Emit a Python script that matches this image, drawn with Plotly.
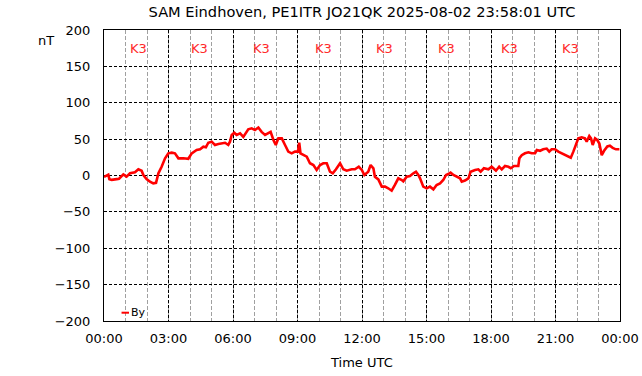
import plotly.graph_objects as go

# ---- data (hours UTC, By in nT) ----
hours = [0.0, 0.2, 0.25, 0.36, 0.59, 0.7, 0.9, 1.05, 1.21, 1.44, 1.6, 1.75, 1.83, 1.98,
         2.14, 2.29, 2.42, 2.53, 2.68, 2.84, 2.99, 3.15, 3.3, 3.46, 3.69, 3.92, 4.08, 4.31,
         4.47, 4.62, 4.74, 4.85, 5.01, 5.16, 5.32, 5.47, 5.63, 5.78, 5.86, 5.94, 6.06, 6.17,
         6.33, 6.48, 6.6, 6.71, 6.87, 7.02, 7.18, 7.33, 7.49, 7.64, 7.75, 7.88, 7.99, 8.11,
         8.27, 8.42, 8.57, 8.73, 8.88, 9.02, 9.08, 9.14, 9.27, 9.43, 9.58, 9.74, 9.89, 10.05,
         10.2, 10.36, 10.51, 10.64, 10.79, 10.98, 11.13, 11.29, 11.52, 11.67, 11.85, 11.99,
         12.11, 12.29, 12.4, 12.53, 12.6, 12.76, 12.92, 13.07, 13.22, 13.38, 13.53, 13.69,
         13.85, 13.92, 14.08, 14.23, 14.39, 14.51, 14.62, 14.7, 14.85, 15.01, 15.16, 15.32,
         15.47, 15.63, 15.78, 15.91, 16.01, 16.12, 16.25, 16.4, 16.56, 16.64, 16.79, 16.95,
         17.05, 17.26, 17.41, 17.52, 17.67, 17.88, 18.03, 18.11, 18.23, 18.38, 18.5, 18.65,
         18.81, 18.92, 19.07, 19.27, 19.32, 19.43, 19.58, 19.74, 19.89, 20.05, 20.13, 20.28,
         20.43, 20.59, 20.71, 20.82, 20.98, 21.13, 21.29, 21.44, 21.6, 21.71, 21.83, 21.95,
         22.06, 22.22, 22.37, 22.45, 22.57, 22.65, 22.73, 22.84, 22.94, 23.04, 23.15, 23.26,
         23.41, 23.53, 23.66, 23.81, 23.97]
by_nt = [-2, 1, -5, -6, -5, -4.5, 1.6, -1.6, 3, 4.4, 8.5, 6.6, 0.7, -4.8,
         -8.5, -10.8, -10, 3, 12, 23.6, 30.5, 31.4, 30.5, 23.6, 23.6, 23, 30.5, 35,
         36, 39.6, 38.7, 45, 46.5, 42, 43.3, 44, 45, 42, 46.5, 55.7, 58.8, 55.7,
         58, 53, 58, 63.5, 64.8, 62.5, 66, 60, 55.7, 58, 60, 48.8, 42, 51,
         51, 42, 32.8, 30.5, 32.8, 32.8, 45, 30.5, 28, 25.8, 16.8, 14.4, 7.6, 14.4,
         16.8, 16.8, 5.2, 3, 8.5, 16.8, 8.5, 6.6, 8.5, 8.5, 12, 7.6,
         0.7, 5.2, 14.4, 9.9, -1.6, -5.3, -15.3, -15.3, -17.6, -20.9, -13, -3.9,
         -6.2, -8, -1.6, -0.7, 3, 5.2, 0.7, -3.9, -15.3, -17.6, -15.3, -19,
         -13, -10.8, -6.2, 0.7, 2, 3.9, 0.7, -1.6, -3.9, -8.5, -7, -3.9,
         5.2, 7.6, 8.5, 5.2, 9.9, 8.5, 12, 10, 6.6, 12, 8.5, 13,
         12, 10, 13, 13, 23.6, 28, 30.5, 31.9, 30.5, 30.5, 35, 34,
         36, 37, 32.8, 36, 36, 32.8, 30.5, 29, 25.8, 24.5, 32.8, 42,
         51, 52.5, 51, 46.5, 54.3, 51, 42, 51, 48.8, 44, 28, 34,
         40, 41, 38, 36, 36]

tick_hours = [0, 3, 6, 9, 12, 15, 18, 21, 24]
tick_labels = ["00:00", "03:00", "06:00", "09:00", "12:00", "15:00", "18:00", "21:00", "00:00"]
y_ticks = [-200, -150, -100, -50, 0, 50, 100, 150, 200]
k_hours = [1.6, 4.46, 7.34, 10.23, 13.06, 15.94, 18.85, 21.71]
k_labels = ["K3", "K3", "K3", "K3", "K3", "K3", "K3", "K3"]
k_level = 174

title_text = "SAM Eindhoven, PE1ITR JO21QK 2025-08-02 23:58:01 UTC"
FONT = "DejaVu Sans"

fig = go.Figure()
fig.add_trace(go.Scatter(x=hours, y=by_nt, mode="lines", name="By",
                         line=dict(color="#ff0000", width=2.6), showlegend=False))

for h, t in zip(k_hours, k_labels):
    fig.add_annotation(x=h, y=k_level, text=t, showarrow=False, xref="x", yref="y",
                       font=dict(family=FONT, size=13, color="#ff2a2a"))

fig.update_layout(
    width=642, height=376,
    margin=dict(l=104, r=22, t=30, b=55, autoexpand=False),
    paper_bgcolor="white", plot_bgcolor="white",
    font=dict(family=FONT, size=13, color="black"),
    title=dict(text=title_text, x=0.5, xref="paper", xanchor="center",
               y=1 - 12 / 376, yref="container", yanchor="middle",
               font=dict(family=FONT, size=14.6, color="black")),
    showlegend=False,
)

fig.update_xaxes(
    range=[0, 24], tickmode="array", tickvals=tick_hours, ticktext=tick_labels,
    showgrid=True, gridcolor="black", gridwidth=1, griddash="3px,2px",
    minor=dict(dtick=1, tick0=0, showgrid=True, gridcolor="#a0a0a0",
               griddash="4px,2px", gridwidth=1, ticks=""),
    showline=True, linecolor="black", linewidth=1, mirror=True,
    ticks="", ticklen=0, ticklabelstandoff=5, zeroline=False,
    tickfont=dict(family=FONT, size=13),
)
fig.update_yaxes(
    range=[-200, 200], tickmode="array", tickvals=y_ticks,
    showgrid=True, gridcolor="black", gridwidth=1, griddash="3px,2px",
    showline=True, linecolor="black", linewidth=1, mirror=True,
    ticks="", ticklen=0, ticklabelstandoff=10, zeroline=False,
    tickfont=dict(family=FONT, size=13),
)

# axis labels
fig.add_annotation(text="nT", x=(46 - 104) / 516, y=(321 - 40) / 291,
                   xref="paper", yref="paper", xanchor="center", yanchor="middle",
                   showarrow=False, font=dict(family=FONT, size=13))
fig.add_annotation(text="Time UTC", x=(361 - 104) / 516, y=(321 - 362.5) / 291,
                   xref="paper", yref="paper", xanchor="center", yanchor="middle",
                   showarrow=False, font=dict(family=FONT, size=13))

# legend key
fig.add_shape(type="line", xref="paper", yref="paper", x0=0.034, x1=0.0484,
              y0=0.0285, y1=0.0285, line=dict(color="#ff0000", width=2))
fig.add_annotation(text="By", x=0.0494, y=0.0285, xref="paper", yref="paper",
                   xanchor="left", yanchor="middle", showarrow=False,
                   font=dict(family=FONT, size=11))

fig.write_html("out.html", config={"displayModeBar": False},
               post_script="document.body.style.margin='0px';document.body.style.padding='0px';")
